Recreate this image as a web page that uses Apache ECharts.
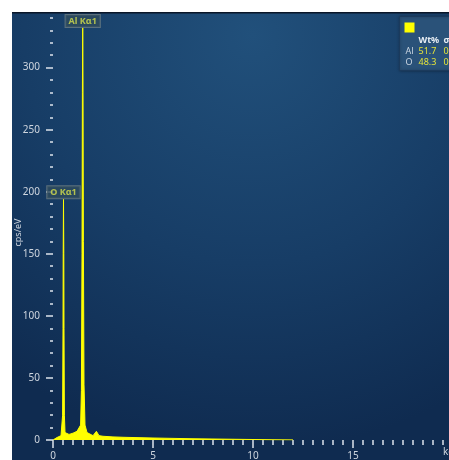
<!DOCTYPE html>
<html>
<head>
<meta charset="utf-8">
<script src="https://cdn.jsdelivr.net/npm/echarts@6/dist/echarts.min.js"></script>
<style>
  html, body { margin: 0; padding: 0; background: #ffffff; }
  #chart { width: 449px; height: 460px; }
</style>
</head>
<body>
<div id="chart"></div>
<script>
// EDS spectrum: energy (keV) and intensity (cps/eV)
const energyKeV = [
  0.0, 0.1, 0.2, 0.3, 0.4, 0.45, 0.48, 0.5, 0.51, 0.525, 0.54, 0.55, 0.57, 0.6,
  0.7, 0.8, 0.9, 1.0, 1.1, 1.2, 1.3, 1.38, 1.42, 1.45, 1.47, 1.486, 1.5, 1.52,
  1.55, 1.6, 1.7, 1.8, 2.0, 2.1, 2.17, 2.22, 2.3, 2.5, 3.0, 3.5, 4.0, 5.0, 6.0,
  7.0, 8.0, 9.0, 10.0, 11.0, 12.0
];
const cpsPerEv = [
  0, 0.5, 2, 3, 3.5, 5, 20, 90, 150, 194, 150, 90, 20, 6,
  4.5, 4.5, 5, 5.5, 6, 7, 8, 12, 40, 150, 280, 332, 290, 160,
  45, 12, 6, 4.5, 3.5, 4.5, 7, 6.5, 3.5, 3, 2.5, 2.2, 2, 1.6, 1.3,
  1, 0.8, 0.6, 0.4, 0.2, 0.1
];

// Identified lines
const peakNames = ['Al K\u03b11', 'O K\u03b11'];
const peakEnergies = [1.486, 0.525];

// Quantification table
const quantElements = ['Al', 'O'];
const quantWt = ['51.7', '48.3'];
const quantSigma = ['0.3', '0.3'];

// Axis ticks
const yMajorTicks = [0, 50, 100, 150, 200, 250, 300];
const yMinorTicks = [10, 20, 30, 40, 60, 70, 80, 90, 110, 120, 130, 140, 160, 170, 180, 190,
  210, 220, 230, 240, 260, 270, 280, 290, 310, 320, 330, 340];
const xMajorTicks = [0, 5, 10, 15];
const xMinorTicks = [0.5, 1, 1.5, 2, 2.5, 3, 3.5, 4, 4.5, 5.5, 6, 6.5, 7, 7.5, 8, 8.5, 9, 9.5,
  10.5, 11, 11.5, 12, 12.5, 13, 13.5, 14, 14.5, 15.5, 16, 16.5, 17, 17.5, 18, 18.5, 19, 19.5];

const spectrum = energyKeV.map((e, i) => [e, cpsPerEv[i]]);
const peakPoints = peakEnergies.map((e, i) => ({
  name: peakNames[i],
  value: [e, cpsPerEv[energyKeV.indexOf(e)]]
}));

const FONT = 'Noto Sans';
const tickColor = '#dde4ec';
const labelColor = '#cfd6df';
const X_MAX = 19.8;
const Y_MAX = 344;

const chart = echarts.init(document.getElementById('chart'), null, { renderer: 'canvas' });

const tableChildren = [
  { type: 'rect', shape: { x: 0, y: 0, width: 60, height: 54 },
    style: { fill: '#2a5279', stroke: '#1b3a5c', lineWidth: 1,
      shadowBlur: 3, shadowColor: 'rgba(0,0,0,0.35)' } },
  { type: 'rect', shape: { x: 5, y: 6, width: 10, height: 10 }, style: { fill: '#ffff00' } },
  { type: 'text', x: 19, y: 19, style: { text: 'Wt%', fill: '#e8eef4', font: 'bold 9px ' + FONT } },
  { type: 'text', x: 44, y: 19, style: { text: '\u03c3', fill: '#e8eef4', font: 'bold 9px ' + FONT } }
];
quantElements.forEach((el, i) => {
  const yy = 30 + i * 11;
  tableChildren.push(
    { type: 'text', x: 6, y: yy, style: { text: el, fill: '#c8d4e0', font: '9px ' + FONT } },
    { type: 'text', x: 19, y: yy, style: { text: quantWt[i], fill: '#e4e43a', font: '9px ' + FONT } },
    { type: 'text', x: 44, y: yy, style: { text: quantSigma[i], fill: '#e4e43a', font: '9px ' + FONT } }
  );
});

const tickAxisBase = {
  type: 'value', min: 0,
  axisLine: { show: false },
  splitLine: { show: false }
};

chart.setOption({
  backgroundColor: '#ffffff',
  animation: false,
  textStyle: { fontFamily: FONT },
  graphic: [
    {
      type: 'rect', z: -10, left: 12, top: 13,
      shape: { width: 437, height: 447 },
      style: {
        fill: {
          type: 'radial', x: 0.55, y: 0.05, r: 0.95,
          colorStops: [
            { offset: 0, color: '#21507b' },
            { offset: 0.55, color: '#173d66' },
            { offset: 1, color: '#0f2b50' }
          ]
        }
      }
    },
    {
      type: 'rect', z: -9, left: 12, top: 12,
      shape: { width: 437, height: 1.5 },
      style: { fill: '#0a1628' }
    },
    {
      type: 'group', z: 100, left: 399, top: 16,
      children: tableChildren
    }
  ],
  grid: { left: 53, right: 0, top: 13, bottom: 20, containLabel: false, outerBoundsMode: 'none' },
  xAxis: [
    Object.assign({}, tickAxisBase, {
      max: X_MAX, offset: 2, position: 'bottom',
      name: 'keV', nameLocation: 'end', nameGap: -6, nameMoveOverlap: false,
      nameTextStyle: { color: labelColor, fontSize: 10, align: 'left', verticalAlign: 'top', padding: [7, 0, 0, 0] },
      axisTick: { show: true, customValues: xMajorTicks, length: 8, lineStyle: { color: tickColor, width: 1.5 } },
      axisLabel: { customValues: xMajorTicks, color: labelColor, fontSize: 10, margin: 9, hideOverlap: false }
    }),
    Object.assign({}, tickAxisBase, {
      max: X_MAX, offset: 2, position: 'bottom',
      axisTick: { show: true, customValues: xMinorTicks, length: 5, lineStyle: { color: tickColor, width: 1.5 } },
      axisLabel: { show: false }
    })
  ],
  yAxis: [
    Object.assign({}, tickAxisBase, {
      max: Y_MAX, offset: 5, position: 'left',
      name: 'cps/eV', nameLocation: 'middle', nameGap: 25, nameRotate: 90, nameMoveOverlap: false,
      nameTextStyle: { color: labelColor, fontSize: 9, padding: [0, 12, 0, 0] },
      axisTick: { show: true, customValues: yMajorTicks, length: 7, lineStyle: { color: tickColor, width: 1.5 } },
      axisLabel: { customValues: yMajorTicks, color: labelColor, fontSize: 10, margin: 8 }
    }),
    Object.assign({}, tickAxisBase, {
      max: Y_MAX, offset: 6, position: 'left',
      axisTick: { show: true, customValues: yMinorTicks, length: 3, lineStyle: { color: tickColor, width: 1.5 } },
      axisLabel: { show: false }
    })
  ],
  series: [
    {
      type: 'line',
      data: spectrum,
      showSymbol: false,
      symbol: 'none',
      lineStyle: { color: '#ffff00', width: 1 },
      areaStyle: { color: '#ffff00', opacity: 1 },
      z: 3
    },
    {
      type: 'scatter',
      data: peakPoints,
      symbolSize: 0,
      z: 5,
      label: {
        show: true, position: 'top', distance: 1,
        formatter: p => p.name,
        color: '#d6e04c', fontWeight: 'bold', fontSize: 9,
        backgroundColor: '#2e4b5e', borderColor: '#6c7c82', borderWidth: 1,
        padding: [2, 3, 1, 3]
      }
    }
  ]
});
</script>
</body>
</html>
